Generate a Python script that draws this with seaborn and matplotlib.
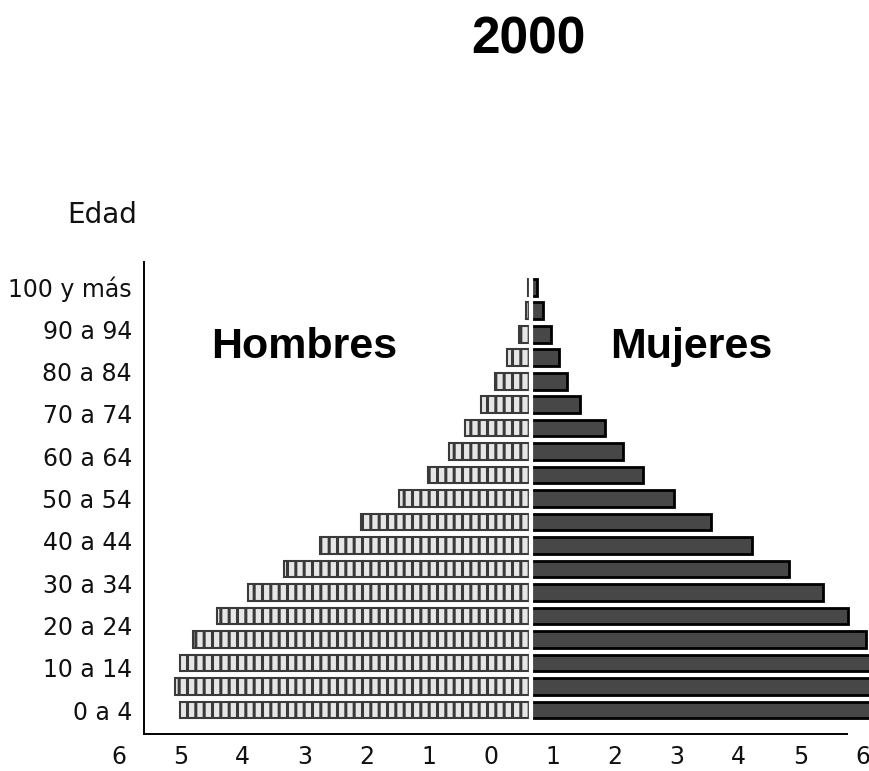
"""
Pirámide de población 2000 (Hombres / Mujeres)
"""
import numpy as np
import pandas as pd
import matplotlib
matplotlib.use('Agg')
import matplotlib.pyplot as plt
import seaborn as sns

# Data, bars listed from the bottom row (youngest) upward
hombres = [5.66, 5.74, 5.66, 5.45, 5.06, 4.56, 3.98, 3.40, 2.74, 2.13,
           1.66, 1.32, 1.06, 0.81, 0.58, 0.39, 0.19, 0.08, 0.05]
mujeres = [5.65, 5.70, 5.60, 5.40, 5.11, 4.71, 4.16, 3.56, 2.90, 2.31,
           1.81, 1.48, 1.19, 0.79, 0.58, 0.45, 0.32, 0.19, 0.10]
edad_labels = ['0 a 4', '10 a 14', '20 a 24', '30 a 34', '40 a 44', '50 a 54',
               '60 a 64', '70 a 74', '80 a 84', '90 a 94', '100 y más']
x_tick_values = [6, 5, 4, 3, 2, 1, 0, 1, 2, 3, 4, 5, 6]

df = pd.DataFrame({
    'fila': np.arange(len(hombres)),
    'hombres': -np.array(hombres),
    'mujeres': mujeres,
})

sns.set_theme(style='white')
plt.rcParams['font.family'] = ['DejaVu Sans']
plt.rcParams['text.color'] = 'black'
plt.rcParams['hatch.linewidth'] = 2.2

fig = plt.figure(figsize=(8.69, 7.71), dpi=100)
ax = fig.add_axes([0.0, 0.048, 1.0, 0.612])

sns.barplot(data=df, x='hombres', y='fila', orient='h', native_scale=True,
            width=0.72, color='#e6e6e6', saturation=1, edgecolor='#3a3a3a',
            linewidth=1.5, hatch='||', errorbar=None, ax=ax)
sns.barplot(data=df, x='mujeres', y='fila', orient='h', native_scale=True,
            width=0.72, color='#474747', saturation=1, edgecolor='black',
            linewidth=2, errorbar=None, ax=ax)
for p in ax.patches:
    p.set_clip_on(False)

# white gap between the two halves
ax.axvline(0, ymin=0.02, ymax=0.98, color='white', lw=3, zorder=5)

ax.set_xlim(-8.56, 5.45)
ax.set_ylim(-1.02, 19.06)

# axis lines
for side in ['top', 'right']:
    ax.spines[side].set_visible(False)
ax.spines['left'].set_position(('data', -6.24))
ax.spines['left'].set_bounds(-1.02, 19.06)
ax.spines['bottom'].set_bounds(-6.24, 5.1)
for side in ['left', 'bottom']:
    ax.spines[side].set_color('black')
    ax.spines[side].set_linewidth(1.4)

# ticks
ax.set_yticks(np.linspace(0, len(hombres) - 1, len(edad_labels)))
ax.set_yticklabels(edad_labels, fontsize=17, color='#111111')
xt = np.array([-6, -5, -4, -3, -2, -1, 0, 1, 2, 3, 4, 5, 6]) - 0.65
ax.set_xticks(xt)
ax.set_xticklabels([str(v) for v in x_tick_values], fontsize=17, color='#111111')
ax.tick_params(axis='y', length=0, pad=8.5)
ax.tick_params(axis='x', length=0, pad=8)
ax.set_xlabel('')
ax.set_ylabel('')
ax.grid(False)

# titles and labels
fig.text(0.608, 0.931, '2000', fontsize=37, fontweight='bold',
         family='Liberation Sans', ha='center', va='baseline', color='black')
fig.text(0.077, 0.7108, 'Edad', fontsize=20, ha='left', va='baseline',
         color='#111111')
fig.text(0.350, 0.5357, 'Hombres', fontsize=31, fontweight='bold',
         family='Liberation Sans', ha='center', va='baseline', color='black')
fig.text(0.796, 0.5357, 'Mujeres', fontsize=31, fontweight='bold',
         family='Liberation Sans', ha='center', va='baseline', color='black')

plt.savefig('out.png', dpi=100)
print("Saved out.png")
